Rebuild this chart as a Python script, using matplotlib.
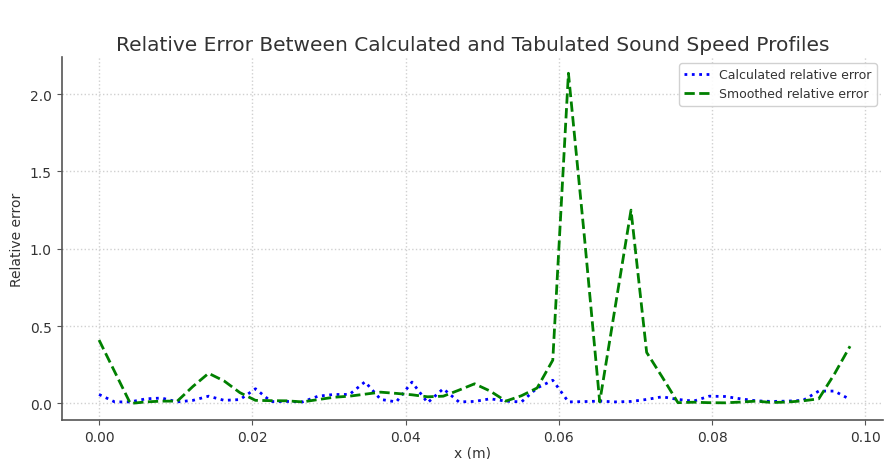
import numpy as np
import matplotlib
matplotlib.use("Agg")
from matplotlib import pyplot as plt

# sample positions (m), regular grid
x = np.linspace(0, 0.098, 49)

calc_err = [0.058, 0.010, 0.010, 0.030, 0.035, 0.010, 0.020, 0.047, 0.020, 0.025,
            0.095, 0.012, 0.013, 0.010, 0.047, 0.058, 0.058, 0.140, 0.026, 0.010,
            0.138, 0.005, 0.095, 0.010, 0.013, 0.030, 0.015, 0.010, 0.100, 0.150,
            0.010, 0.012, 0.015, 0.010, 0.013, 0.026, 0.043, 0.026, 0.015, 0.047,
            0.045, 0.030, 0.017, 0.013, 0.015, 0.020, 0.080, 0.080, 0.026]

smooth_err = [0.410, 0.205, 0.000, 0.010, 0.015, 0.015, 0.110, 0.195, 0.145, 0.070,
              0.020, 0.018, 0.017, 0.010, 0.025, 0.040, 0.047, 0.060, 0.073, 0.065,
              0.056, 0.043, 0.047, 0.086, 0.127, 0.080, 0.015, 0.050, 0.100, 0.280,
              2.135, 1.100, 0.010, 0.630, 1.250, 0.330, 0.170, 0.005, 0.008, 0.005,
              0.004, 0.009, 0.015, 0.006, 0.009, 0.017, 0.030, 0.190, 0.370]

txt = "#333333"
plt.rcParams["text.color"] = txt
plt.rcParams["axes.labelcolor"] = txt
plt.rcParams["xtick.color"] = txt
plt.rcParams["ytick.color"] = txt

fig = plt.figure(figsize=(8.84, 4.6), dpi=100)
ax = fig.add_axes([61.5 / 884, 1 - 421 / 460, (883 - 61.5) / 884, (421 - 58) / 460])

ax.plot(x, calc_err, color="blue", linestyle=":", linewidth=2, label="Calculated relative error")
ax.plot(x, smooth_err, color="green", linestyle="--", linewidth=2, label="Smoothed relative error")

ax.set_xlim(-0.0049, 0.1023)
ax.set_ylim(-0.107, 2.24)
ax.set_xticks([0.0, 0.02, 0.04, 0.06, 0.08, 0.10])
ax.set_yticks([0.0, 0.5, 1.0, 1.5, 2.0])
ax.xaxis.set_major_formatter(matplotlib.ticker.FormatStrFormatter("%.2f"))
ax.yaxis.set_major_formatter(matplotlib.ticker.FormatStrFormatter("%.1f"))
ax.tick_params(labelsize=10, color="#555555")

ax.grid(True, linestyle=":", color="#d0d0d0", linewidth=1)
for s in ("top", "right"):
    ax.spines[s].set_visible(False)
for s in ("left", "bottom"):
    ax.spines[s].set_color("#555555")
    ax.spines[s].set_linewidth(1.2)

ax.set_xlabel("x (m)", fontsize=10, labelpad=1)
ax.set_ylabel("Relative error", fontsize=10)
ax.set_title("Relative Error Between Calculated and Tabulated Sound Speed Profiles", fontsize=14.5, pad=5)
ax.legend(loc="upper right", fontsize=9, framealpha=0.9)

fig.savefig("out.png", dpi=100)
